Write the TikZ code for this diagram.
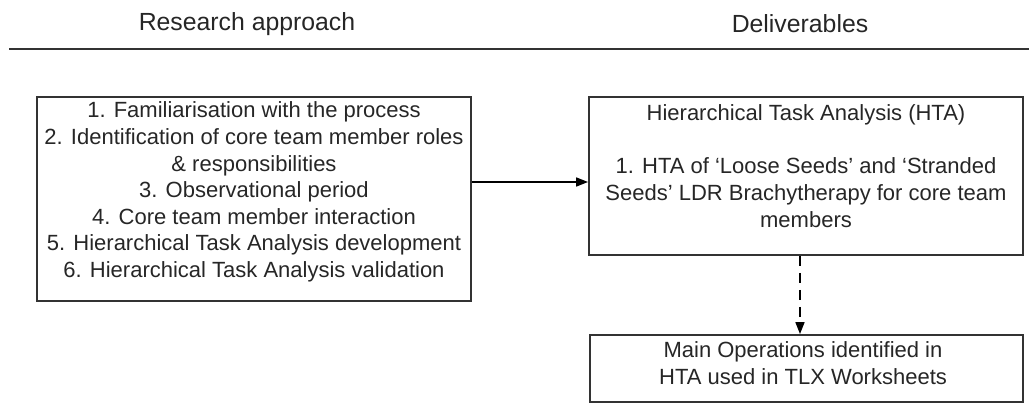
\documentclass[tikz,border=0pt]{standalone}
\usepackage{fontspec}
\setmainfont{Liberation Sans}
\usetikzlibrary{arrows.meta}
\definecolor{ink}{HTML}{262626}
\definecolor{edge}{HTML}{333333}
\tikzset{
  box/.style={draw=edge, line width=1.8pt, rectangle, inner sep=0pt},
  body/.style={text=ink, align=center, inner sep=0pt, font=\fontsize{22}{26.6}\selectfont},
  head/.style={text=ink, inner sep=0pt, font=\fontsize{24.8}{30}\selectfont},
  arr/.style={draw=black, line width=1.6pt, -{Triangle[length=12pt,width=9pt]}},
  dasharr/.style={arr, dash pattern=on 10pt off 7pt}
}
\begin{document}
\begin{tikzpicture}[x=1pt,y=-1pt]
\useasboundingbox (0,0) rectangle (1029,404);
% headers
\node[head] (h1) at (247,24) {Research approach};
\node[head] (h2) at (800,24) {Deliverables};
\coordinate (hl) at (9,49);
\coordinate (hr) at (1029,49);
\draw[draw=edge, line width=2.4pt] (hl) -- (hr);
% boxes
\node[box, minimum width=434pt, minimum height=204pt] (L) at (254,199) {};
\node[box, minimum width=434pt, minimum height=158pt] (R) at (806,176) {};
\node[box, minimum width=433pt, minimum height=67pt] (B) at (806.5,368.5) {};
% texts
\node[body] (Lt) at (254,192) {1. Familiarisation with the process\\
2. Identification of core team member roles\\
\& responsibilities\\
3. Observational period\\
4. Core team member interaction\\
5. Hierarchical Task Analysis development\\
6. Hierarchical Task Analysis validation};
\node[body] (Rt) at (806,166) {Hierarchical Task Analysis (HTA)\\[26.6pt]
1. HTA of `Loose Seeds' and `Stranded\\
Seeds' LDR Brachytherapy for core team\\
members};
\node[body] (Bt) at (803,363) {Main Operations identified in\\
HTA used in TLX Worksheets};
% connectors
\coordinate (ay) at (0,182);
\coordinate (dx) at (800,0);
\draw[arr] (L.east |- ay) -- (R.west |- ay);
\draw[dasharr] (R.south -| dx) -- (B.north -| dx);
\end{tikzpicture}
\end{document}
